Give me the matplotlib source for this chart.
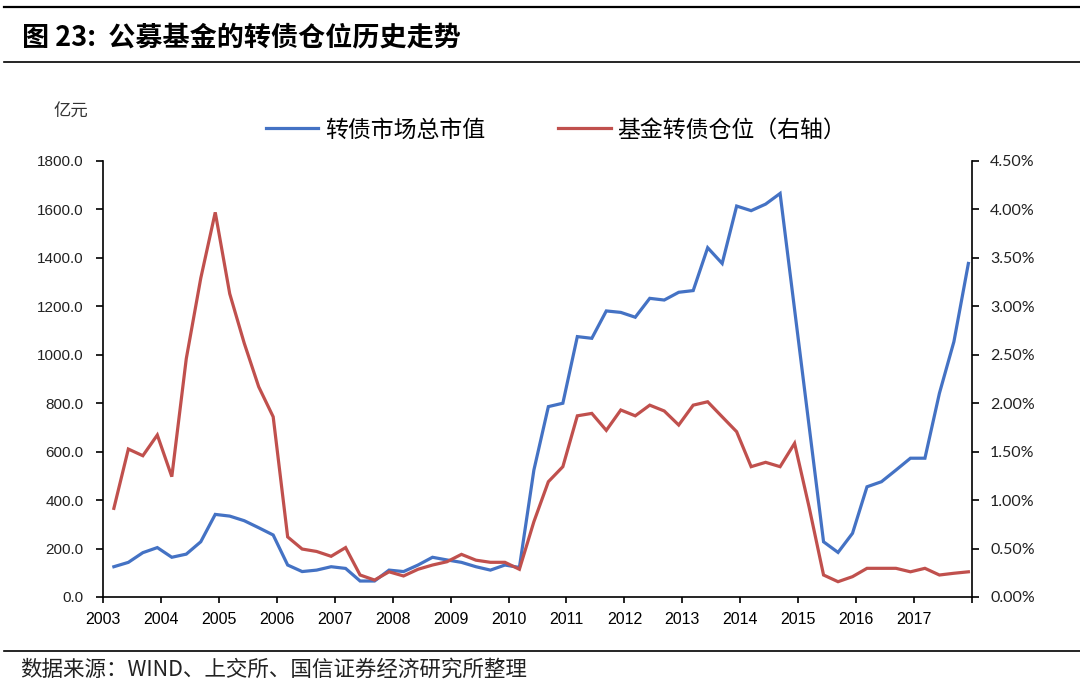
import matplotlib
matplotlib.use('Agg')
import matplotlib.pyplot as plt
from matplotlib.lines import Line2D
from matplotlib.ticker import FuncFormatter, MultipleLocator

cjk = ['Noto Sans CJK SC', 'DejaVu Sans']
plt.rcParams['font.family'] = ['Liberation Sans', 'Noto Sans CJK SC', 'DejaVu Sans']

# 季度数据 2003Q1 - 2017Q4
years = list(range(2003, 2018))
quarters = [1, 2, 3, 4]

# 转债市场总市值（亿元）
market_value = [
    125, 143, 183, 204,
    164, 177, 228, 341,
    334, 315, 286, 256,
    132, 105, 111, 125,
    118, 66, 66, 111,
    105, 132, 164, 153,
    143, 125, 111, 132,
    122, 524, 786, 800,
    1075, 1068, 1181, 1175,
    1155, 1233, 1226, 1258,
    1265, 1442, 1377, 1614,
    1595, 1622, 1666, 1187,
    707, 228, 184, 263,
    455, 476, 524, 573,
    573, 841, 1054, 1377,
]

# 基金转债仓位（%，右轴）
fund_position = [
    0.915, 1.527, 1.458, 1.672,
    1.242, 2.46, 3.29, 3.97,
    3.13, 2.62, 2.17, 1.86,
    0.62, 0.495, 0.47, 0.42,
    0.51, 0.227, 0.175, 0.26,
    0.217, 0.286, 0.33, 0.364,
    0.44, 0.38, 0.358, 0.358,
    0.286, 0.777, 1.19, 1.345,
    1.87, 1.895, 1.72, 1.93,
    1.87, 1.98, 1.92, 1.775,
    1.98, 2.015, 1.86, 1.706,
    1.345, 1.39, 1.345, 1.586,
    0.93, 0.227, 0.158, 0.21,
    0.296, 0.296, 0.296, 0.26,
    0.296, 0.227, 0.245, 0.26,
]

x = [y + (q - 0.25) / 4 for y in years for q in quarters]

fig = plt.figure(figsize=(10.8, 6.98), dpi=100)
ax = fig.add_axes([103 / 1080, 1 - 597 / 698, (972 - 103) / 1080, (597 - 161) / 698])
ax2 = ax.twinx()

l1, = ax.plot(x, market_value, color='#4472C4', lw=2.3, solid_joinstyle='miter')
l2, = ax2.plot(x, fund_position, color='#C0504D', lw=2.3, solid_joinstyle='miter')

# 坐标轴
ax.set_xlim(2003, 2018)
ax.set_xticks(range(2003, 2019))
ax.set_xticklabels([str(y) for y in years] + [''])
ax.set_ylim(0, 1800)
ax.yaxis.set_major_locator(MultipleLocator(200))
ax.yaxis.set_major_formatter(FuncFormatter(lambda v, p: '%.1f' % v))
ax2.set_ylim(0, 4.5)
ax2.yaxis.set_major_locator(MultipleLocator(0.5))
ax2.yaxis.set_major_formatter(FuncFormatter(lambda v, p: '%.2f%%' % v))

for s in ['top', 'right']:
    ax.spines[s].set_visible(False)
for s in ['top', 'left', 'bottom']:
    ax2.spines[s].set_visible(False)
for a in (ax, ax2):
    for s in a.spines.values():
        s.set_linewidth(1.2)
        s.set_color('black')

ax.tick_params(axis='y', direction='out', length=5, width=1.2, pad=9, labelsize=11, colors='black')
ax.tick_params(axis='x', direction='out', length=4, width=1.2, pad=7, labelsize=11.5, colors='black')
ax2.tick_params(axis='y', direction='out', length=5, width=1.2, pad=8, labelsize=11.5, colors='black')
for t in ax.get_yticklabels():
    t.set_color('#222222')
for t in ax2.get_yticklabels():
    t.set_family(['Lato', 'DejaVu Sans'])
    t.set_color('#222222')

fig.text(71 / 1080, 1 - 112 / 698, '亿元', family=cjk, fontsize=12.5, ha='center', va='center', color='#333333')

fig.legend(handles=[l1, l2], labels=['转债市场总市值', '基金转债仓位（右轴）'],
           loc='center', bbox_to_anchor=(556 / 1080, 1 - 130 / 698), ncol=2, frameon=False,
           prop={'family': cjk, 'size': 16.5}, handlelength=2.3, handletextpad=0.28,
           columnspacing=3.2)

# 标题与来源
fig.text(22 / 1080, 1 - 37 / 698, '图 23:  公募基金的转债仓位历史走势', family=cjk,
         fontsize=19.5, fontweight='bold', ha='left', va='center', color='black')
fig.text(20 / 1080, 1 - 670 / 698, '数据来源：WIND、上交所、国信证券经济研究所整理',
         family=cjk, fontsize=15.5, ha='left', va='center', color='#222222')

for yy, lw in [(7, 1.6), (62, 1.2), (651, 1.2)]:
    fig.add_artist(Line2D([0.004, 1.0], [1 - yy / 698, 1 - yy / 698],
                          transform=fig.transFigure, color='black', lw=lw))

fig.savefig('out.png', dpi=100)
